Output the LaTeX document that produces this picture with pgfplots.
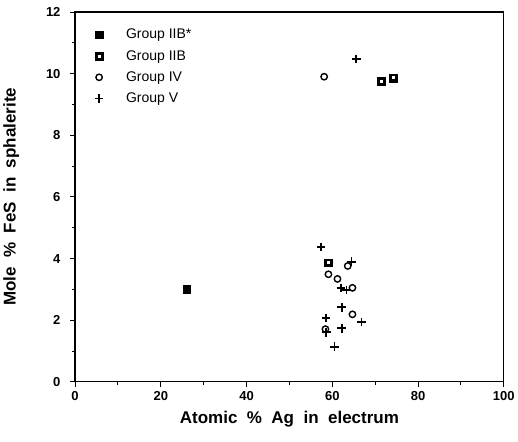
\documentclass[border=0pt]{standalone}
\usepackage{pgfplots}
\pgfplotsset{compat=1.18}
\usepackage{fontspec}
\setmainfont{Liberation Sans}
\pgfdeclareplotmark{sqdot}{%
  \pgfpathrectangle{\pgfpoint{-\pgfplotmarksize}{-\pgfplotmarksize}}{\pgfpoint{2\pgfplotmarksize}{2\pgfplotmarksize}}%
  \pgfusepathqfillstroke
  \begin{pgfscope}%
  \pgfsetfillcolor{white}%
  \pgfpathrectangle{\pgfpoint{-0.4\pgfplotmarksize}{-0.4\pgfplotmarksize}}{\pgfpoint{0.8\pgfplotmarksize}{0.8\pgfplotmarksize}}%
  \pgfusepathqfill
  \end{pgfscope}%
}
\begin{document}
\begin{tikzpicture}
\begin{axis}[
  scale only axis,
  width=429pt, height=370pt,
  xmin=0, xmax=100, ymin=0, ymax=12,
  xtick={0,20,...,100}, ytick={0,2,...,12},
  minor xtick={10,30,...,90}, minor ytick={1,3,...,11},
  xtick pos=bottom, ytick pos=left,
  tick align=outside,
  major tick length=5pt, minor tick length=3pt,
  every tick/.style={black, line width=0.9pt},
  axis line style={line width=1.1pt},
  /pgf/number format/assume math mode=true,
  ticklabel style={font=\bfseries\fontsize{13}{13}\selectfont},
  yticklabel style={xshift=-6pt},
  xticklabel style={yshift=-1pt},
  xlabel={Atomic\ \ \%\ \ Ag\ \ in\ \ electrum},
  ylabel={Mole\ \ \%\ \ FeS\ \ in\ \ sphalerite},
  label style={font=\bfseries\fontsize{17}{17}\selectfont},
  xlabel style={yshift=-4pt},
  ylabel style={yshift=20pt},
  legend style={draw=none, at={(0.035,0.965)}, anchor=north west,
    font=\fontsize{14}{14}\selectfont, row sep=6pt,
    legend cell align=left},
  legend image code/.code={\path (-5pt,0pt) (24pt,0pt); \draw[#1] plot coordinates {(0pt,0pt)};},
]
\addplot[only marks, mark=square*, mark size=3.8pt, black] coordinates {(26,3.0)};
\addlegendentry{Group IIB*}
\addplot[only marks, mark=sqdot, mark size=3.8pt, black, fill=black] coordinates {(71.4,9.76) (74.2,9.86) (59.1,3.87)};
\addlegendentry{Group IIB}
\addplot[only marks, mark=o, mark size=3.2pt, black, line width=1.4pt] coordinates {
(58.1,9.9) (59.1,3.49) (61.2,3.34) (63.6,3.76) (64.7,3.05) (64.7,2.19) (58.4,1.71)};
\addlegendentry{Group IV}
\addplot[only marks, mark=+, mark size=4.3pt, black, line width=1.8pt] coordinates {
(65.6,10.48) (57.4,4.37) (64.5,3.90) (62.0,3.04) (63.3,2.98) (62.2,2.42)
(58.5,2.07) (66.8,1.94) (62.2,1.74) (58.6,1.61) (60.5,1.14)};
\addlegendentry{Group V}
\end{axis}
\path ([yshift=12pt]current axis.north west);
\path ([yshift=-60pt]current axis.south west);
\end{tikzpicture}
\end{document}
